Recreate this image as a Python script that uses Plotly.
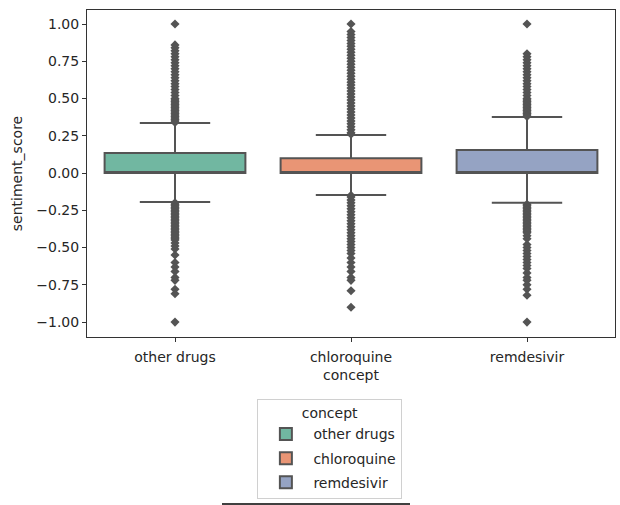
import plotly.graph_objects as go

categories = ["other drugs", "chloroquine", "remdesivir"]
colors = ["#71b7a1", "#e99575", "#95a3c3"]

q1 = [0.0, 0.0, 0.0]
median = [0.0, 0.0, 0.0]
q3 = [0.134, 0.10, 0.154]
lower_whisker = [-0.195, -0.148, -0.20]
upper_whisker = [0.335, 0.255, 0.376]

outliers_other = [1.00, 0.86, 0.84, 0.82, 0.80, 0.78, 0.76, 0.74, 0.72, 0.70, 0.68, 0.66,
                  0.64, 0.62, 0.60, 0.58, 0.56, 0.54, 0.52, 0.50, 0.49, 0.48, 0.47, 0.46,
                  0.45, 0.44, 0.43, 0.42, 0.41, 0.40, 0.39, 0.38, 0.37, 0.36, 0.35, 0.34,
                  -0.20, -0.21, -0.22, -0.23, -0.24, -0.25, -0.26, -0.27, -0.28, -0.29,
                  -0.30, -0.31, -0.32, -0.33, -0.34, -0.35, -0.36, -0.37, -0.38, -0.39,
                  -0.40, -0.41, -0.42, -0.43, -0.44, -0.45, -0.47, -0.49, -0.51, -0.55,
                  -0.60, -0.63, -0.66, -0.70, -0.72, -0.78, -0.81, -1.00]
outliers_chloro = [1.00, 0.95, 0.93, 0.91, 0.89, 0.87, 0.85, 0.83, 0.81, 0.79, 0.77, 0.75,
                   0.73, 0.71, 0.69, 0.67, 0.65, 0.63, 0.61, 0.59, 0.57, 0.55, 0.53, 0.51,
                   0.49, 0.47, 0.45, 0.43, 0.41, 0.39, 0.37, 0.35, 0.33, 0.31, 0.29, 0.27,
                   0.26, -0.15, -0.16, -0.18, -0.20, -0.22, -0.24, -0.26, -0.28, -0.30,
                   -0.32, -0.34, -0.36, -0.38, -0.40, -0.42, -0.44, -0.46, -0.48, -0.50,
                   -0.52, -0.54, -0.57, -0.60, -0.63, -0.66, -0.70, -0.72, -0.79, -0.90]
outliers_remd = [1.00, 0.80, 0.78, 0.76, 0.74, 0.72, 0.70, 0.68, 0.66, 0.64, 0.62, 0.60,
                 0.58, 0.56, 0.54, 0.52, 0.50, 0.49, 0.48, 0.47, 0.46, 0.45, 0.44, 0.43,
                 0.42, 0.41, 0.40, 0.39, 0.38,
                 -0.21, -0.22, -0.23, -0.24, -0.25, -0.26, -0.27, -0.28, -0.29, -0.30,
                 -0.31, -0.32, -0.33, -0.34, -0.35, -0.36, -0.37, -0.38, -0.39, -0.40,
                 -0.42, -0.44, -0.48, -0.50, -0.52, -0.54, -0.56, -0.58, -0.60, -0.62,
                 -0.64, -0.67, -0.70, -0.72, -0.75, -0.78, -0.82, -1.00]
outliers = [outliers_other, outliers_chloro, outliers_remd]

line_gray = "#545454"
fig = go.Figure()

for i, cat in enumerate(categories):
    fig.add_trace(go.Scatter(
        x=[cat] * len(outliers[i]), y=outliers[i], mode="markers",
        marker=dict(symbol="diamond", size=7, color=line_gray, line=dict(width=0)),
        showlegend=False, hoverinfo="y",
    ))

for i, cat in enumerate(categories):
    fig.add_trace(go.Box(
        x=[cat], q1=[q1[i]], median=[median[i]], q3=[q3[i]],
        lowerfence=[lower_whisker[i]], upperfence=[upper_whisker[i]],
        name=cat, legendgroup=cat, fillcolor=colors[i],
        line=dict(color=line_gray, width=2),
        width=0.8, whiskerwidth=0.5, boxpoints=False,
    ))

fig.update_layout(
    width=620, height=505,
    margin=dict(l=87, r=5, t=10, b=168),
    paper_bgcolor="white", plot_bgcolor="white",
    font=dict(family="DejaVu Sans", size=14, color="#262626"),
    boxmode="overlay",
    showlegend=True,
    legend=dict(
        title=dict(text="concept", side="top center", font=dict(size=14)),
        x=0.46, y=-0.19, xanchor="center", yanchor="top",
        bordercolor="#d0d0d0", borderwidth=1, bgcolor="white",
        font=dict(size=14), itemsizing="constant", itemwidth=45,
        tracegroupgap=3,
    ),
    xaxis=dict(
        title=dict(text="concept", standoff=6, font=dict(size=14)),
        automargin=False, range=[-0.5, 2.5],
        categoryorder="array", categoryarray=categories,
        showline=True, linecolor="#333333", linewidth=1, mirror=True,
        ticks="outside", ticklen=4, tickcolor="#333333", showgrid=False,
        tickfont=dict(size=14), ticklabelstandoff=3,
    ),
    yaxis=dict(
        title=dict(text="sentiment_score", standoff=10, font=dict(size=14)),
        automargin=False,
        range=[-1.1, 1.094], tickvals=[-1, -0.75, -0.5, -0.25, 0, 0.25, 0.5, 0.75, 1],
        tickformat=".2f",
        showline=True, linecolor="#333333", linewidth=1, mirror=True,
        ticks="outside", ticklen=4, tickcolor="#333333", showgrid=False,
        zeroline=False, tickfont=dict(size=14),
    ),
    shapes=[dict(type="line", xref="paper", yref="paper",
                 x0=(222 - 87) / 528, x1=(410 - 87) / 528,
                 y0=(337 - 504) / 327, y1=(337 - 504) / 327,
                 line=dict(color="black", width=1.5))],
)

fig.write_html("out.html")
